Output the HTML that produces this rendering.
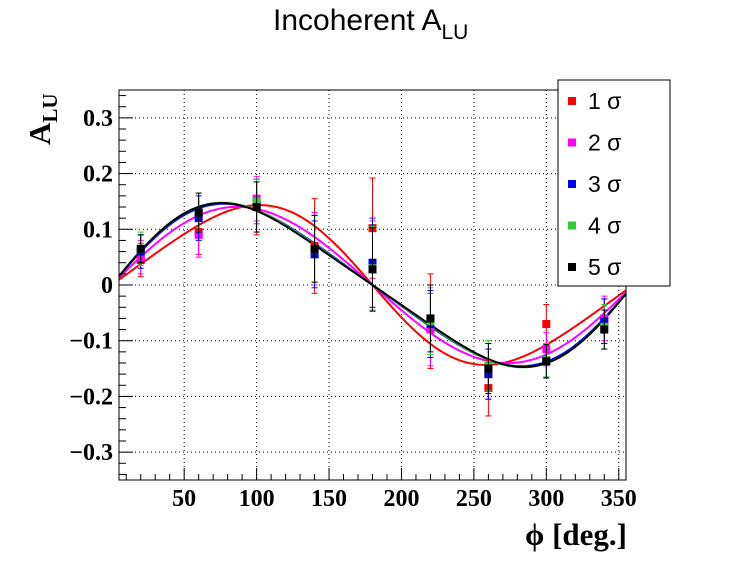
<!DOCTYPE html>
<html><head><meta charset="utf-8"><style>
body{margin:0;background:#fff;width:746px;height:572px;overflow:hidden}
svg text{font-family:"Liberation Serif",serif;font-weight:bold}
</style></head><body>
<svg id="c" width="746" height="572" xmlns="http://www.w3.org/2000/svg"></svg>
<script>
const xCats=[20,60,100,140,180,220,260,300,340];
const labels=["1 σ","2 σ","3 σ","4 σ","5 σ"];
const colors=["#ff0000","#ff00ff","#0000ff","#33cc33","#000000"];
const s1=[0.045,0.095,0.14,0.07,0.102,-0.065,-0.185,-0.07,-0.065];
const s2=[0.05,0.09,0.155,0.065,0.035,-0.08,-0.16,-0.115,-0.06];
const s3=[0.06,0.12,0.15,0.055,0.04,-0.07,-0.16,-0.135,-0.065];
const s4=[0.065,0.13,0.15,0.065,0.03,-0.065,-0.145,-0.135,-0.075];
const s5=[0.065,0.13,0.14,0.065,0.028,-0.06,-0.15,-0.137,-0.08];
const e1=[0.03,0.04,0.05,0.085,0.09,0.085,0.05,0.035,0.04];
const e2=[0.03,0.04,0.04,0.065,0.08,0.065,0.045,0.03,0.04];
const e3=[0.03,0.04,0.04,0.06,0.08,0.06,0.045,0.03,0.04];
const e4=[0.03,0.035,0.04,0.06,0.075,0.06,0.045,0.03,0.04];
const e5=[0.025,0.035,0.045,0.06,0.075,0.06,0.045,0.03,0.035];
const fitA=[0.14,0.14,0.142,0.143,0.142];
const fitB=[-0.016,0.004,0.017,0.019,0.02];
const xTicks=[50,100,150,200,250,300,350];
const yTicks=[-0.3,-0.2,-0.1,0,0.1,0.2,0.3];
const series=[s1,s2,s3,s4,s5], errs=[e1,e2,e3,e4,e5];
const L=119,R=626,T=90,B=480,xmin=5,xmax=355,ymin=-0.35,ymax=0.35;
const X=v=>L+(v-xmin)/(xmax-xmin)*(R-L);
const Y=v=>B-(v-ymin)/(ymax-ymin)*(B-T);
const svg=document.getElementById('c');const NS="http://www.w3.org/2000/svg";
function mk(t,a,p){const e=document.createElementNS(NS,t);for(const k in a)e.setAttribute(k,a[k]);(p||svg).appendChild(e);return e;}
xTicks.forEach(v=>{const g=mk('line',{x1:X(v),x2:X(v),y1:T,y2:B,stroke:'#000','stroke-dasharray':'1,3','stroke-width':1});
});
yTicks.forEach(v=>{const g=mk('line',{x1:L,x2:R,y1:Y(v),y2:Y(v),stroke:'#000','stroke-dasharray':'1,3','stroke-width':1});
});
const cg=mk('g',{});
for(let i=0;i<5;i++){let d='';for(let p=xmin;p<=xmax;p+=1){const r=p*Math.PI/180;const v=fitA[i]*Math.sin(r)+fitB[i]*Math.sin(2*r);d+=(p==xmin?'M':'L')+X(p).toFixed(1)+','+Y(v).toFixed(1);}
const c=mk('path',{d:d,fill:'none',stroke:colors[i],'stroke-width':2},cg);}
for(let i=0;i<5;i++){const g=mk('g',{});
xCats.forEach((x,j)=>{const v=series[i][j],e=errs[i][j],px=X(x);
mk('line',{x1:px,x2:px,y1:Y(v+e),y2:Y(v-e),stroke:colors[i],'stroke-width':1},g);
mk('line',{x1:px-3,x2:px+3,y1:Y(v+e),y2:Y(v+e),stroke:colors[i],'stroke-width':1},g);
mk('line',{x1:px-3,x2:px+3,y1:Y(v-e),y2:Y(v-e),stroke:colors[i],'stroke-width':1},g);
const m=mk('rect',{x:px-4,y:Y(v)-4,width:8,height:8,fill:colors[i]},g);});}
const f=mk('rect',{x:L,y:T,width:R-L,height:B-T,fill:'none',stroke:'#000','stroke-width':1});
for(let v=10;v<=350;v+=10){const big=v%50==0;mk('line',{x1:X(v),x2:X(v),y1:B,y2:B-(big?12:6),stroke:'#000'});}
for(let k=-17;k<=17;k++){const v=k*0.02;const big=k%5==0;mk('line',{x1:L,x2:L+(big?14:7),y1:Y(v),y2:Y(v),stroke:'#000'});}
xTicks.forEach(v=>{const t=mk('text',{x:X(v),y:506,'text-anchor':'middle','font-size':24});t.textContent=v;});
yTicks.forEach(v=>{const t=mk('text',{x:113,y:Y(v)+8,'text-anchor':'end','font-size':24});t.textContent=v==0?'0':(v<0?'−':'')+Math.abs(v).toFixed(1);});
const lg=mk('g',{});
mk('rect',{x:558,y:80,width:112,height:206,fill:'#fff',stroke:'#000'},lg);
labels.forEach((l,i)=>{const y=101+i*41.5;mk('rect',{x:568,y:y-4,width:8,height:8,fill:colors[i]},lg);
const t=mk('text',{x:588,y:y+8,'font-size':23,style:'font-family:Liberation Sans,sans-serif;font-weight:normal'},lg);t.textContent=l;});
</script>
<svg width="746" height="572" style="position:absolute;left:0;top:0" xmlns="http://www.w3.org/2000/svg">
<text x="273" y="30" font-size="30" style="font-family:'Liberation Sans',sans-serif;font-weight:normal">Incoherent A<tspan font-size="21" dy="9">LU</tspan></text>
<text transform="translate(50,145) rotate(-90)" font-size="31">A<tspan font-size="21" dy="7">LU</tspan></text>
<text x="627" y="545" text-anchor="end" font-size="31">ϕ [deg.]</text>
</svg>
</body></html>
